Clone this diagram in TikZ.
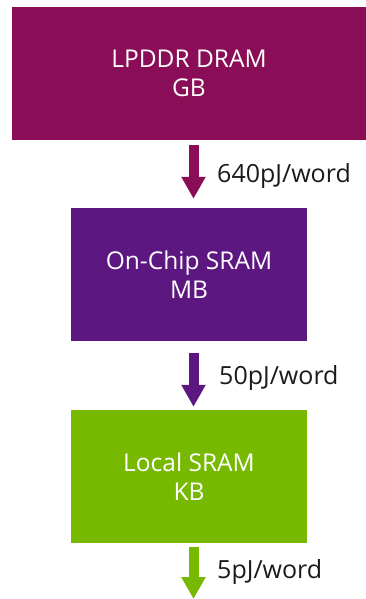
\documentclass[tikz,border=0pt]{standalone}
\usepackage{fontspec}
\setmainfont{Open Sans}
\usetikzlibrary{arrows.meta}
\definecolor{dram}{HTML}{8A0E57}
\definecolor{chip}{HTML}{5C1780}
\definecolor{local}{HTML}{76B900}
\definecolor{lbl}{HTML}{1A1A1A}
\begin{document}
\begin{tikzpicture}[x=1pt,y=-1pt,
  membox/.style={rectangle, inner sep=0pt, text=white, align=center,
    font=\fontsize{24.5}{29}\selectfont},
  flow/.style={line width=10pt, -{Triangle[width=23pt,length=22pt]}},
  energy/.style={anchor=base west, text=lbl, inner sep=0pt, font=\fontsize{25}{29}\selectfont}]
\useasboundingbox (0,0) rectangle (366,599);
\node[membox, fill=dram, minimum width=354pt, minimum height=133pt] (dram) at (189,73.5) {LPDDR DRAM\\GB};
\node[membox, fill=chip, minimum width=236pt, minimum height=133pt] (chip) at (189,274.5) {On-Chip SRAM\\MB};
\node[membox, fill=local, minimum width=236pt, minimum height=133pt] (local) at (189,476.5) {Local SRAM\\KB};
\coordinate (out) at (193.5,599);
\draw[flow, draw=dram, fill=dram] ([xshift=4.5pt,yshift=-5pt]dram.south) -- ([xshift=4.5pt,yshift=9pt]chip.north);
\draw[flow, draw=chip, fill=chip] ([xshift=4.5pt,yshift=-12pt]chip.south) -- ([xshift=4.5pt,yshift=3pt]local.north);
\draw[flow, draw=local, fill=local] ([xshift=4.5pt,yshift=-4pt]local.south) -- (out);
\node[energy] (e1) at (217,182) {640pJ/word};
\node[energy] (e2) at (219,384) {50pJ/word};
\node[energy] (e3) at (217,578) {5pJ/word};
\end{tikzpicture}
\end{document}
